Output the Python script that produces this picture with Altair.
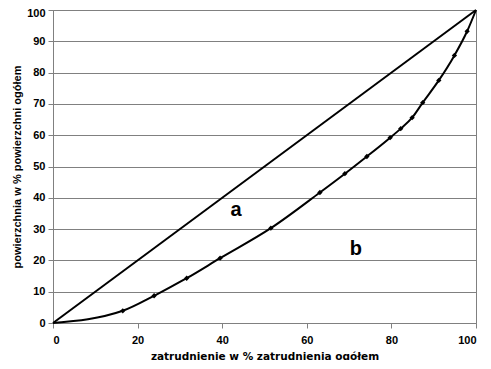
import altair as alt
import pandas as pd

# curve b (Lorenz curve) points
b_x = [0, 16.5, 23.9, 31.6, 39.5, 51.5, 63.1, 69.0, 74.2, 79.7, 82.2, 84.9, 87.4, 91.2, 94.9, 97.9, 100]
b_y = [0, 3.9, 8.7, 14.3, 20.7, 30.3, 41.7, 47.7, 53.2, 59.2, 62.1, 65.6, 70.4, 77.5, 85.5, 93.2, 100]
# diagonal a
a_x = [0, 100]
a_y = [0, 100]
# area labels
lab_text = ["a", "b"]
lab_x = [43.3, 71.6]
lab_y = [36.0, 23.8]

ticks_y = list(range(0, 101, 10))
ticks_x = list(range(0, 101, 20))

dfb = pd.DataFrame({"x": b_x, "y": b_y})
dfa = pd.DataFrame({"x": a_x, "y": a_y})
dfl = pd.DataFrame({"t": lab_text, "x": lab_x, "y": lab_y})

xs = alt.Scale(domain=[0, 100], nice=False)
ys = alt.Scale(domain=[0, 100], nice=False)

xax = alt.Axis(values=ticks_x, grid=False, tickSize=5, labelPadding=6, labelOverlap=False,
               title="zatrudnienie w % zatrudnienia ogółem", titlePadding=6,
               titleFont="DejaVu Sans", titleFontSize=10.5)
yax = alt.Axis(values=ticks_y, grid=True, tickSize=5, labelPadding=3, labelOverlap=False,
               labelOffset={"condition": {"test": "datum.value == 100", "value": 3}, "value": 0},
               title="powierzchnia w % powierzchni ogółem", titlePadding=4)

X = alt.X("x:Q", scale=xs, axis=xax)
Y = alt.Y("y:Q", scale=ys, axis=yax)

line_a = alt.Chart(dfa).mark_line(color="black", strokeWidth=2).encode(x=X, y=Y)

line_b = alt.Chart(dfb).mark_line(color="black", strokeWidth=2, interpolate="monotone").encode(x=X, y=Y)

pts_b = alt.Chart(dfb[(dfb.x > 0) & (dfb.x < 100)]).mark_point(
    shape="diamond", filled=True, color="black", size=28, opacity=1
).encode(x=X, y=Y)

labels = alt.Chart(dfl).mark_text(
    font="Liberation Sans", fontWeight="bold", fontSize=20, color="black"
).encode(x=X, y=Y, text="t:N")

chart = (line_a + line_b + pts_b + labels).properties(
    width=423, height=313,
    autosize=alt.AutoSizeParams(type="none"),
    padding={"left": 45, "top": 2, "right": 7, "bottom": 37},
).configure_view(
    stroke="#808080", strokeWidth=1
).configure_axis(
    labelFont="Liberation Sans", labelFontWeight="bold", labelFontSize=11, labelColor="black",
    titleFont="Liberation Sans", titleFontWeight="bold", titleFontSize=11, titleColor="black",
    domainColor="#808080", tickColor="#808080", gridColor="#808080", gridOpacity=1,
    domainWidth=1, tickWidth=1, gridWidth=1,
)

chart.save("out.html", embed_options={"renderer": "svg", "actions": False})
